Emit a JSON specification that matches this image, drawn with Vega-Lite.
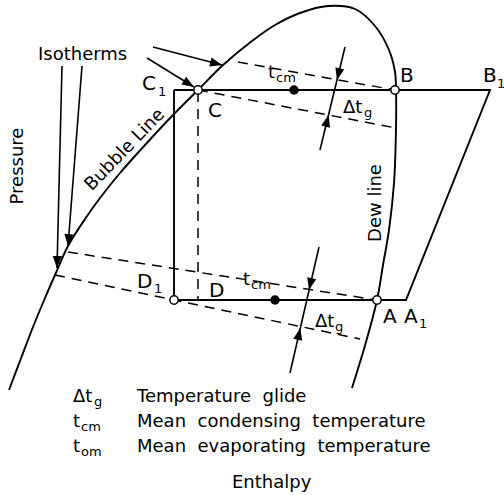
{
  "$schema": "https://vega.github.io/schema/vega-lite/v6.json",
  "width": 504,
  "height": 495,
  "autosize": "none",
  "padding": 0,
  "background": "white",
  "config": {"view": {"stroke": null}, "text": {"font": "DejaVu Sans", "color": "black"}},
  "datasets": {
    "dome": [
      {"i": 0, "x": 9, "y": 390}, {"i": 1, "x": 20, "y": 361}, {"i": 2, "x": 33, "y": 327},
      {"i": 3, "x": 45, "y": 298}, {"i": 4, "x": 55, "y": 275}, {"i": 5, "x": 68, "y": 246},
      {"i": 6, "x": 85, "y": 219}, {"i": 7, "x": 100, "y": 198}, {"i": 8, "x": 120, "y": 173},
      {"i": 9, "x": 145, "y": 145}, {"i": 10, "x": 173, "y": 115}, {"i": 11, "x": 198, "y": 90},
      {"i": 12, "x": 223, "y": 65}, {"i": 13, "x": 252, "y": 41}, {"i": 14, "x": 275, "y": 25},
      {"i": 15, "x": 300, "y": 13}, {"i": 16, "x": 328, "y": 6}, {"i": 17, "x": 355, "y": 9},
      {"i": 18, "x": 375, "y": 26}, {"i": 19, "x": 389, "y": 50}, {"i": 20, "x": 395, "y": 72},
      {"i": 21, "x": 396, "y": 90}, {"i": 22, "x": 396, "y": 128}, {"i": 23, "x": 394, "y": 183},
      {"i": 24, "x": 389, "y": 230}, {"i": 25, "x": 383, "y": 265}, {"i": 26, "x": 377, "y": 300},
      {"i": 27, "x": 366, "y": 342}, {"i": 28, "x": 352, "y": 388}
    ],
    "cycle": [
      {"i": 0, "x": 174, "y": 90}, {"i": 1, "x": 490, "y": 90}, {"i": 2, "x": 406, "y": 300},
      {"i": 3, "x": 174, "y": 300}, {"i": 4, "x": 174, "y": 90}
    ],
    "dashed": [
      {"x": 198, "y": 92, "x2": 198, "y2": 300},
      {"x": 238, "y": 62, "x2": 395, "y2": 90},
      {"x": 198, "y": 90, "x2": 396, "y2": 128},
      {"x": 68, "y": 252, "x2": 377, "y2": 300},
      {"x": 55, "y": 275, "x2": 360, "y2": 339}
    ],
    "arrows": [
      {"x": 62, "y": 66, "x2": 57, "y2": 268},
      {"x": 82, "y": 66, "x2": 68, "y2": 246},
      {"x": 153, "y": 47, "x2": 222, "y2": 65},
      {"x": 147, "y": 58, "x2": 194, "y2": 87},
      {"x": 345, "y": 47, "x2": 320, "y2": 150},
      {"x": 319, "y": 247, "x2": 290, "y2": 373}
    ],
    "heads": [
      {"x": 57, "y": 268, "dir": 1.4},
      {"x": 68, "y": 246, "dir": 4.4},
      {"x": 222, "y": 65, "dir": -75.4},
      {"x": 194, "y": 87, "dir": -58.5},
      {"x": 337, "y": 80, "dir": 13.6},
      {"x": 328.5, "y": 115, "dir": 193.6},
      {"x": 309, "y": 290, "dir": 13},
      {"x": 300.4, "y": 328, "dir": 193}
    ],
    "open": [
      {"x": 198, "y": 90}, {"x": 395, "y": 90}, {"x": 174, "y": 300}, {"x": 377, "y": 300}
    ],
    "filled": [
      {"x": 294, "y": 90}, {"x": 275, "y": 300}
    ],
    "points": [
      {"x": 142, "y": 90, "t": "C"},
      {"x": 208, "y": 117, "t": "C"},
      {"x": 400, "y": 82, "t": "B"},
      {"x": 483, "y": 82, "t": "B"},
      {"x": 137, "y": 288, "t": "D"},
      {"x": 209, "y": 297, "t": "D"},
      {"x": 383, "y": 323, "t": "A"},
      {"x": 404, "y": 323, "t": "A"}
    ],
    "labels": [
      {"x": 38, "y": 60, "t": "Isotherms"},
      {"x": 268, "y": 78, "t": "t"},
      {"x": 343, "y": 113, "t": "Δt"},
      {"x": 243, "y": 285, "t": "t"},
      {"x": 315, "y": 327, "t": "Δt"},
      {"x": 73, "y": 402, "t": "Δt"},
      {"x": 73, "y": 427, "t": "t"},
      {"x": 73, "y": 452, "t": "t"},
      {"x": 137, "y": 402, "t": "Temperature\u00a0 glide"},
      {"x": 137, "y": 427, "t": "Mean\u00a0 condensing\u00a0 temperature"},
      {"x": 137, "y": 452, "t": "Mean\u00a0 evaporating\u00a0 temperature"},
      {"x": 232, "y": 488, "t": "Enthalpy"}
    ],
    "subs": [
      {"x": 158, "y": 96, "t": "1"},
      {"x": 497, "y": 88, "t": "1"},
      {"x": 154, "y": 293, "t": "1"},
      {"x": 419, "y": 328, "t": "1"},
      {"x": 276, "y": 82, "t": "cm"},
      {"x": 364, "y": 117, "t": "g"},
      {"x": 251, "y": 289, "t": "cm"},
      {"x": 335, "y": 331, "t": "g"},
      {"x": 94, "y": 406, "t": "g"},
      {"x": 81, "y": 431, "t": "cm"},
      {"x": 81, "y": 456, "t": "om"}
    ],
    "vertical": [
      {"x": 17.5, "y": 166, "t": "Pressure"},
      {"x": 376, "y": 203, "t": "Dew line"}
    ],
    "diagonal": [
      {"x": 125, "y": 150, "t": "Bubble Line"}
    ]
  },
  "encoding": {
    "x": {"field": "x", "type": "quantitative", "scale": {"domain": [0, 504], "nice": false, "zero": false}, "axis": null},
    "y": {"field": "y", "type": "quantitative", "scale": {"domain": [0, 495], "nice": false, "zero": false, "reverse": true}, "axis": null}
  },
  "layer": [
    {
      "data": {"name": "dome"},
      "mark": {"type": "line", "interpolate": "catmull-rom", "color": "black", "strokeWidth": 1.9},
      "encoding": {"order": {"field": "i", "type": "quantitative"}}
    },
    {
      "data": {"name": "cycle"},
      "mark": {"type": "line", "color": "black", "strokeWidth": 1.9},
      "encoding": {"order": {"field": "i", "type": "quantitative"}}
    },
    {
      "data": {"name": "dashed"},
      "mark": {"type": "rule", "color": "black", "strokeWidth": 1.5, "strokeDash": [10, 7]},
      "encoding": {"x2": {"field": "x2"}, "y2": {"field": "y2"}}
    },
    {
      "data": {"name": "arrows"},
      "mark": {"type": "rule", "color": "black", "strokeWidth": 1.6},
      "encoding": {"x2": {"field": "x2"}, "y2": {"field": "y2"}}
    },
    {
      "data": {"name": "heads"},
      "mark": {"type": "point", "shape": "M0,0L-0.38,-1L0.38,-1Z", "filled": true, "size": 576, "color": "black", "strokeWidth": 0, "opacity": 1},
      "encoding": {"angle": {"field": "dir", "type": "quantitative", "scale": null}}
    },
    {
      "data": {"name": "open"},
      "mark": {"type": "point", "shape": "circle", "filled": true, "fill": "white", "stroke": "black", "strokeWidth": 1.5, "size": 70, "opacity": 1}
    },
    {
      "data": {"name": "filled"},
      "mark": {"type": "point", "shape": "circle", "filled": true, "color": "black", "size": 90, "opacity": 1}
    },
    {
      "data": {"name": "points"},
      "mark": {"type": "text", "fontSize": 20, "align": "left", "baseline": "alphabetic"},
      "encoding": {"text": {"field": "t"}}
    },
    {
      "data": {"name": "labels"},
      "mark": {"type": "text", "fontSize": 18, "align": "left", "baseline": "alphabetic"},
      "encoding": {"text": {"field": "t"}}
    },
    {
      "data": {"name": "subs"},
      "mark": {"type": "text", "fontSize": 13, "align": "left", "baseline": "alphabetic"},
      "encoding": {"text": {"field": "t"}}
    },
    {
      "data": {"name": "vertical"},
      "mark": {"type": "text", "fontSize": 18, "align": "center", "baseline": "middle", "angle": 270},
      "encoding": {"text": {"field": "t"}}
    },
    {
      "data": {"name": "diagonal"},
      "mark": {"type": "text", "fontSize": 18, "align": "center", "baseline": "middle", "angle": 314},
      "encoding": {"text": {"field": "t"}}
    }
  ]
}
